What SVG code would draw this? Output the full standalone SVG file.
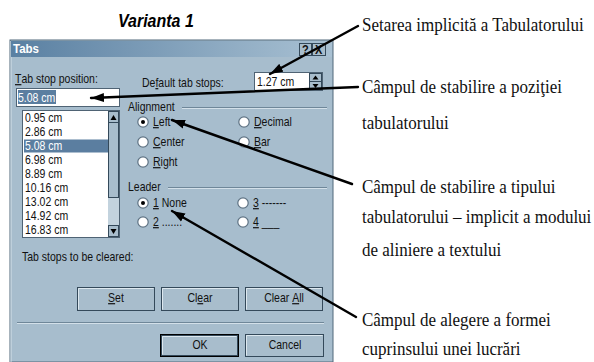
<svg xmlns="http://www.w3.org/2000/svg" width="594" height="362" viewBox="0 0 594 362">
  <defs>
    <linearGradient id="tg" x1="0" y1="0" x2="1" y2="0">
      <stop offset="0" stop-color="#5a80a2"/>
      <stop offset="1" stop-color="#a9c1d3"/>
    </linearGradient>
    <marker id="ah" markerUnits="userSpaceOnUse" markerWidth="14" markerHeight="10" refX="13" refY="5" orient="auto">
      <path d="M0,0.5 L13,5 L0,9.5 z" fill="#000"/>
    </marker>
    <g id="radio">
      <circle r="5.2" fill="#fff" stroke="#5e7283" stroke-width="1.2"/>
    </g>
  </defs>
  <style>
    .ui { font-family: "Liberation Sans", Arial, sans-serif; font-size: 10.5px; fill: #111; }
    .title { font-family: "Liberation Sans", Arial, sans-serif; font-size: 11.5px; font-weight: bold; fill: #fff; }
    .sel { fill: #fff; }
    .lbl { font-family: "Liberation Serif", "Times New Roman", serif; font-size: 17px; fill: #111; }
    .hd { font-family: "Liberation Sans", Arial, sans-serif; font-size: 16px; font-weight: bold; font-style: italic; fill: #000; }
    .ui, .lbl, .hd, .title { transform-box: fill-box; transform-origin: 0 80%; transform: scaleY(1.14); }
    .u { text-decoration: underline; }
    .box { fill: #fff; stroke: #4f6374; stroke-width: 1; }
    .btn { fill: #a8bdcc; stroke: #34495a; stroke-width: 1; }
    .btnhi { fill: none; stroke: #dde8ef; stroke-width: 1; }
    .etch { stroke: #6f8799; stroke-width: 1; }
    .etch2 { stroke: #d3e0e9; stroke-width: 1; }
    .conn { stroke: #000; stroke-width: 2.4; fill: none; stroke-linecap: round; }
  </style>

  <rect width="594" height="362" fill="#fff"/>

  <g id="heading">
    <text class="hd" x="118" y="27">Varianta 1</text>
  </g>

  <g id="dialog">
    <rect x="10" y="40" width="323" height="322" fill="#a7bdcd" stroke="#51687a" stroke-width="1"/>
    <line x1="11" y1="41" x2="11" y2="362" stroke="#d6e2ea"/>
    <rect x="11" y="41" width="321" height="16" fill="url(#tg)"/>
    <text class="title" x="13" y="53">Tabs</text>
    <g id="help-close">
      <rect x="299.5" y="43.5" width="12" height="12" class="btn"/>
      <text class="ui" x="302" y="53.5" style="font-weight:bold;font-size:11px">?</text>
      <rect x="312.5" y="43.5" width="13" height="12" class="btn"/>
      <text class="ui" x="315" y="53.5" style="font-weight:bold;font-size:11px">X</text>
    </g>

    <g id="tab-stop-position">
      <text class="ui" x="15" y="83"><tspan class="u">T</tspan>ab stop position:</text>
      <rect x="16.5" y="88.5" width="103" height="18" class="box"/>
      <rect x="18" y="90" width="38" height="14" fill="#5b7ea0"/>
      <text class="ui sel" x="18" y="101.5">5.08 cm</text>
    </g>

    <g id="tab-list">
      <rect x="22.5" y="110.5" width="97" height="127" class="box"/>
      <rect x="24" y="139.5" width="84" height="13" fill="#5b7ea0"/>
      <g>
        <text class="ui" x="25" y="122">0.95 cm</text>
        <text class="ui" x="25" y="136">2.86 cm</text>
        <text class="ui sel" x="25" y="150">5.08 cm</text>
        <text class="ui" x="25" y="164">6.98 cm</text>
        <text class="ui" x="25" y="178">8.89 cm</text>
        <text class="ui" x="25" y="192">10.16 cm</text>
        <text class="ui" x="25" y="206">13.02 cm</text>
        <text class="ui" x="25" y="220">14.92 cm</text>
        <text class="ui" x="25" y="234">16.83 cm</text>
      </g>
      <rect x="108" y="111" width="11" height="126" fill="#c3d3de"/>
      <rect x="108.5" y="111.5" width="10" height="11" class="btn"/>
      <path d="M110.5,120 L113.5,115 L116.5,120 z" fill="#000"/>
      <rect x="108.5" y="122.5" width="10" height="75" class="btn"/>
      <rect x="108.5" y="225.5" width="10" height="11" class="btn"/>
      <path d="M110.5,229 L113.5,234 L116.5,229 z" fill="#000"/>
    </g>

    <g id="default-tab-stops">
      <text class="ui" x="142" y="87">De<tspan class="u">f</tspan>ault tab stops:</text>
      <rect x="254.5" y="72.5" width="68" height="18" class="box"/>
      <text class="ui" x="257" y="86">1.27 cm</text>
      <rect x="309.5" y="73.5" width="12" height="8" class="btn"/>
      <path d="M312.5,79.5 L315.5,75.5 L318.5,79.5 z" fill="#000"/>
      <rect x="309.5" y="81.5" width="12" height="8" class="btn"/>
      <path d="M312.5,84 L315.5,88 L318.5,84 z" fill="#000"/>
    </g>

    <g id="alignment">
      <text class="ui" x="128" y="111">Alignment</text>
      <line x1="182" y1="107.5" x2="327" y2="107.5" class="etch"/>
      <line x1="182" y1="108.5" x2="327" y2="108.5" class="etch2"/>
      <use href="#radio" x="143" y="122"/>
      <circle cx="143" cy="122" r="2" fill="#000"/>
      <text class="ui" x="153" y="126"><tspan class="u">L</tspan>eft</text>
      <use href="#radio" x="244" y="122"/>
      <text class="ui" x="254" y="126"><tspan class="u">D</tspan>ecimal</text>
      <use href="#radio" x="143" y="142"/>
      <text class="ui" x="153" y="146"><tspan class="u">C</tspan>enter</text>
      <use href="#radio" x="244" y="142"/>
      <text class="ui" x="254" y="146"><tspan class="u">B</tspan>ar</text>
      <use href="#radio" x="143" y="162"/>
      <text class="ui" x="153" y="166"><tspan class="u">R</tspan>ight</text>
    </g>

    <g id="leader">
      <text class="ui" x="128" y="191">Leader</text>
      <line x1="168" y1="187.5" x2="327" y2="187.5" class="etch"/>
      <line x1="168" y1="188.5" x2="327" y2="188.5" class="etch2"/>
      <use href="#radio" x="143" y="203"/>
      <circle cx="143" cy="203" r="2" fill="#000"/>
      <text class="ui" x="153" y="207"><tspan class="u">1</tspan> None</text>
      <use href="#radio" x="243" y="203"/>
      <text class="ui" x="253" y="207"><tspan class="u">3</tspan> -------</text>
      <use href="#radio" x="143" y="222"/>
      <text class="ui" x="153" y="226"><tspan class="u">2</tspan> .......</text>
      <use href="#radio" x="243" y="222"/>
      <text class="ui" x="253" y="226"><tspan class="u">4</tspan> ___</text>
    </g>

    <g id="clear-buttons">
      <text class="ui" x="22" y="261">Tab stops to be cleared:</text>
      <rect x="77.5" y="287.5" width="77" height="23" class="btn"/>
      <polyline points="78.5,309.5 78.5,288.5 153.5,288.5" class="btnhi"/>
      <text class="ui" x="116" y="302" text-anchor="middle"><tspan class="u">S</tspan>et</text>
      <rect x="161.5" y="287.5" width="77" height="23" class="btn"/>
      <polyline points="162.5,309.5 162.5,288.5 237.5,288.5" class="btnhi"/>
      <text class="ui" x="200" y="302" text-anchor="middle">Cl<tspan class="u">e</tspan>ar</text>
      <rect x="245.5" y="287.5" width="77" height="23" class="btn"/>
      <polyline points="246.5,309.5 246.5,288.5 321.5,288.5" class="btnhi"/>
      <text class="ui" x="284" y="302" text-anchor="middle">Clear <tspan class="u">A</tspan>ll</text>
      <line x1="17" y1="322.5" x2="324" y2="322.5" class="etch"/>
      <line x1="17" y1="323.5" x2="324" y2="323.5" class="etch2"/>
    </g>

    <g id="ok-cancel">
      <rect x="160.5" y="334.5" width="78" height="22" fill="none" stroke="#000" stroke-width="1"/>
      <rect x="161.5" y="335.5" width="76" height="20" class="btn"/>
      <polyline points="162.5,354.5 162.5,336.5 236.5,336.5" class="btnhi"/>
      <text class="ui" x="200" y="349" text-anchor="middle">OK</text>
      <rect x="245.5" y="334.5" width="78" height="22" class="btn"/>
      <polyline points="246.5,355.5 246.5,335.5 322.5,335.5" class="btnhi"/>
      <text class="ui" x="285" y="349" text-anchor="middle">Cancel</text>
    </g>
  </g>

  <g id="label-setarea">
    <text class="lbl" x="362" y="31">Setarea implicită a Tabulatorului</text>
  </g>
  <g id="label-pozitie">
    <text class="lbl" x="362" y="93">Câmpul de stabilire a poziţiei</text>
    <text class="lbl" x="362" y="129">tabulatorului</text>
  </g>
  <g id="label-tip">
    <text class="lbl" x="362" y="193">Câmpul de stabilire a tipului</text>
    <text class="lbl" x="362" y="223">tabulatorului – implicit a modului</text>
    <text class="lbl" x="362" y="256">de aliniere a textului</text>
  </g>
  <g id="label-forma">
    <text class="lbl" x="362" y="326">Câmpul de alegere a formei</text>
    <text class="lbl" x="362" y="355">cuprinsului unei lucrări</text>
  </g>

  <g id="connectors">
    <line class="conn" x1="358" y1="26" x2="270" y2="74" marker-end="url(#ah)"/>
    <line class="conn" x1="358" y1="87" x2="91" y2="98" marker-end="url(#ah)"/>
    <line class="conn" x1="352" y1="184" x2="172" y2="120" marker-end="url(#ah)"/>
    <line class="conn" x1="356" y1="317" x2="172" y2="211" marker-end="url(#ah)"/>
  </g>
</svg>
